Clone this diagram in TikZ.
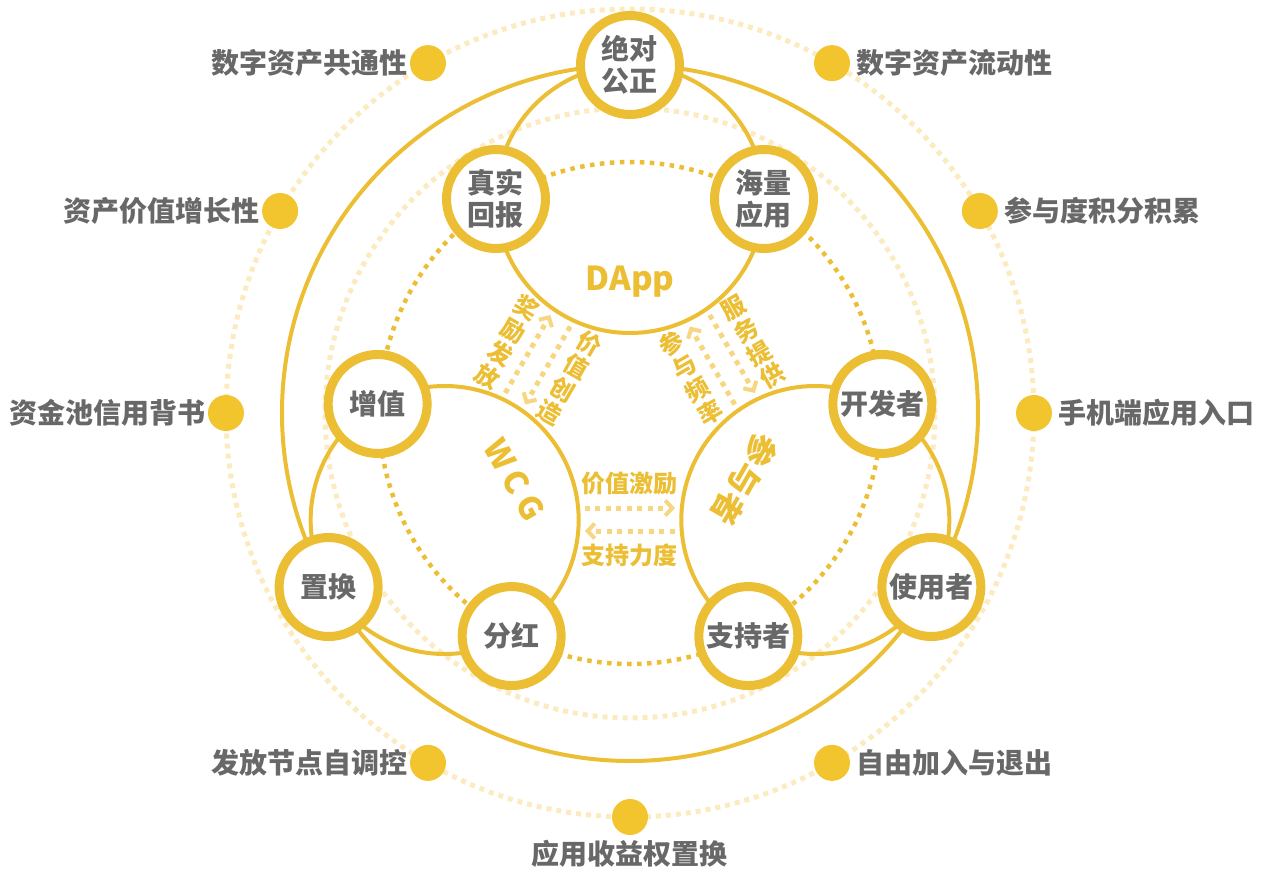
\documentclass[tikz,border=0pt]{standalone}
\usepackage{fontspec}
\setmainfont{Noto Sans CJK SC}
\usetikzlibrary{arrows.meta,positioning}

\definecolor{ringgold}{RGB}{236,190,52}
\definecolor{dotgold}{RGB}{242,196,46}
\definecolor{palegold}{RGB}{252,235,192}
\definecolor{flowgold}{RGB}{246,214,128}
\definecolor{labelgray}{RGB}{104,104,104}

\newcommand{\flowpair}[5]{
  \begin{scope}[rotate=#2]
    \coordinate (#1a) at (-45,-95);
    \coordinate (#1b) at (45,-95);
    \coordinate (#1c) at (45,-118);
    \coordinate (#1d) at (-45,-118);
    \draw[flow] (#1a) -- (#1b);
    \draw[flow] (#1c) -- (#1d);
    \node[flowlabel,rotate=#3] (#1in) at (0,-70) {#4};
    \node[flowlabel,rotate=#3] (#1out) at (0,-142) {#5};
  \end{scope}
}
\newcommand{\traitleft}[3]{
  \node[spot] (#1) at (#2:404) {};
  \node[trait,left=2pt of #1] (#1t) {#3};
}
\newcommand{\traitright}[3]{
  \node[spot] (#1) at (#2:404) {};
  \node[trait,right=6pt of #1] (#1t) {#3};
}

\begin{document}
\begin{tikzpicture}[x=1pt,y=1pt]

\tikzstyle{ring}=[draw=ringgold,line width=4pt]
\tikzstyle{paledots}=[draw=palegold,line width=5pt,dash pattern=on 5pt off 5pt]
\tikzstyle{golddots}=[draw=ringgold,line width=4.5pt,dash pattern=on 4.5pt off 5.5pt]
\tikzstyle{flow}=[draw=flowgold,line width=5pt,dash pattern=on 5pt off 5.5pt,-{Straight Barb[length=7pt,width=15pt,line width=4pt]}]
\tikzstyle{hub}=[circle,draw=ringgold,line width=9pt,fill=white,minimum size=99pt,inner sep=0pt,align=center,text=labelgray,font=\bfseries\fontsize{28}{32}\selectfont]
\tikzstyle{spot}=[circle,fill=dotgold,minimum size=36pt,inner sep=0pt]
\tikzstyle{trait}=[inner sep=0pt,text=labelgray,font=\bfseries\fontsize{28}{32}\selectfont]
\tikzstyle{flowlabel}=[inner sep=0pt,align=center,text=ringgold,font=\bfseries\fontsize{24}{26.5}\selectfont]
\tikzstyle{title}=[inner sep=0pt,text=ringgold,font=\bfseries\fontsize{32}{36}\selectfont]

\useasboundingbox (-630,-458) rectangle (632,413);

\coordinate (o) at (0,0);
\coordinate (dapp) at (90:214);
\coordinate (wcg) at (210:214);
\coordinate (cyz) at (330:214);

\draw[paledots] (o) circle (404);
\draw[paledots] (o) circle (305);
\draw[golddots] (o) circle (251);
\draw[ring] (o) circle (348);
\draw[ring] (dapp) circle (134);
\draw[ring] (wcg) circle (134);
\draw[ring] (cyz) circle (134);

\flowpair{wc}{0}{0}{价值激励}{支持力度}
\flowpair{dw}{-120}{-30}{价\\值\\创\\造}{奖\\励\\发\\放}
\flowpair{dc}{120}{30}{参\\与\\频\\率}{服\\务\\提\\供}

\node[title,font=\bfseries\fontsize{33}{36}\selectfont,anchor=base] (dapptitle) at (0,123) {DApp};
\node[title,rotate=-60] (wcgtitle) at ([shift={(30:81)}]wcg) {W\hspace{7pt}C\hspace{7pt}G};
\node[title,rotate=-120] (cyztitle) at ([shift={(150:81)}]cyz) {参\hspace{1pt}与\hspace{1pt}者};

\node[hub] (jd) at (90:348) {绝对\\公正};
\node[hub] (zs) at ([shift={(180:134)}]dapp) {真实\\回报};
\node[hub] (hl) at ([shift={(0:134)}]dapp) {海量\\应用};
\node[hub] (zz) at ([shift={(120:134)}]wcg) {增值};
\node[hub] (zh) at (210:348) {置换};
\node[hub] (fh) at ([shift={(300:134)}]wcg) {分红};
\node[hub] (kf) at ([shift={(60:134)}]cyz) {开发者};
\node[hub] (sy) at (330:348) {使用者};
\node[hub] (zc) at ([shift={(240:134)}]cyz) {支持者};

\traitleft{a}{120}{数字资产共通性}
\traitleft{b}{150}{资产价值增长性}
\traitleft{c}{180}{资金池信用背书}
\traitleft{d}{240}{发放节点自调控}
\traitright{e}{60}{数字资产流动性}
\traitright{f}{30}{参与度积分积累}
\traitright{g}{0}{手机端应用入口}
\traitright{h}{300}{自由加入与退出}
\node[spot] (k) at (270:404) {};
\node[trait,below=5pt of k] (kt) {应用收益权置换};

\end{tikzpicture}
\end{document}
